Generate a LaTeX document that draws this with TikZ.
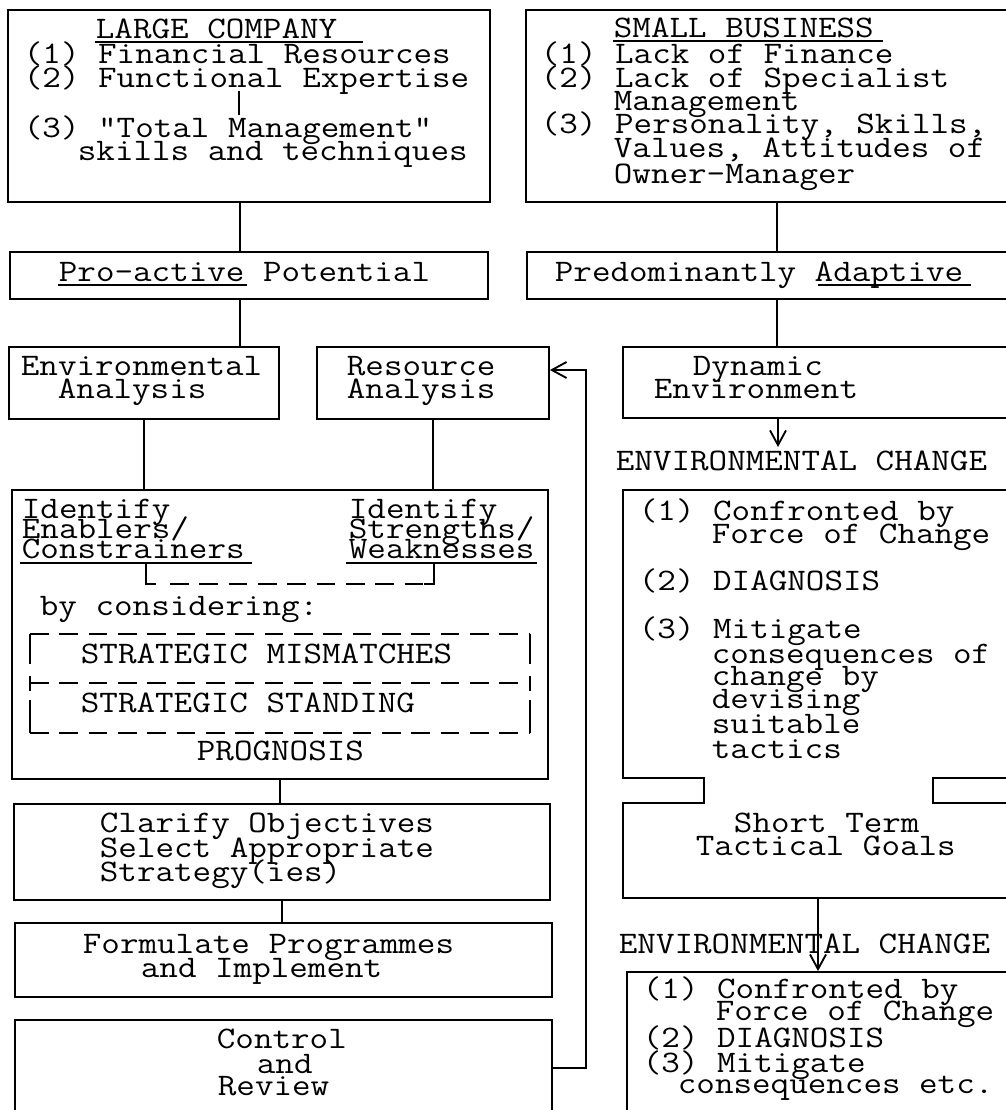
\documentclass[tikz,border=0pt]{standalone}
\usepackage{graphicx}
\usetikzlibrary{fit,calc,arrows.meta}
% typewriter face used for every label, widened slightly
\newcommand\diagfont{\fontsize{23.5}{18}\selectfont\ttfamily}
\newcommand\lbl[3]{\node[txt] (#1) at (#2) {\scalebox{1.15}[1]{#3}};}
\begin{document}
\begin{tikzpicture}[x=0.75pt,y=-0.75pt,line width=1.4pt,
  box/.style={draw,inner sep=0pt,line width=1.4pt},
  area/.style={inner sep=0pt},
  txt/.style={inner sep=0pt,anchor=base west,font=\diagfont},
  ul/.style={line width=1.1pt},
  dsh/.style={line width=1.3pt,dash pattern=on 14pt off 8pt},
  arr/.style={-{Straight Barb[length=11pt,width=12pt]}}]
\useasboundingbox (0,0) rectangle (1006,1110);
\fill[white] (0,0) rectangle (1006,1110);
\clip (0,0) rectangle (1006,1110);

% ---------- large company column ----------
\node[box,fit={(8,10) (490,202)}] (lco) {};
\lbl{lc0}{95,38}{LARGE COMPANY}
\lbl{lc1}{23,63}{(1) Financial Resources}
\lbl{lc2}{23,87}{(2) Functional Expertise}
\lbl{lc3}{23,137}{(3) "Total Management"}
\lbl{lc4}{77,160}{skills and techniques}
\draw[ul] ($(lc0.base west)+(0,4)$) -- ++(268,0);
\coordinate (tickA) at (239,91);
\coordinate (tickB) at (239,115);
\draw (tickA) -- (tickB);

\node[box,fit={(10,252) (488,299)}] (pro) {};
\lbl{prot}{58,281}{Pro-active Potential}
\draw[ul] ($(prot.base west)+(0,4)$) -- ++(189,0);

\node[box,fit={(9,347) (279,419)}] (env) {};
\lbl{env1}{20,375}{Environmental}
\lbl{env2}{57,398}{Analysis}

\node[box,fit={(317,347) (549,419)}] (res) {};
\lbl{res1}{346,375}{Resource}
\lbl{res2}{346,398}{Analysis}

% analysis block
\node[box,fit={(12,490) (548,779)}] (big) {};
\lbl{ec1}{21,518}{Identify}
\lbl{ec2}{21,538}{Enablers/}
\lbl{ec3}{21,558}{Constrainers}
\lbl{sw1}{348,518}{Identify}
\lbl{sw2}{348,538}{Strengths/}
\lbl{sw3}{348,558}{Weaknesses}
\draw[ul] ($(ec3.base west)+(-1,5)$) -- ++(232,0);
\draw[ul] ($(sw3.base west)+(-2,5)$) -- ++(191,0);
\coordinate (brL) at (146,563);
\coordinate (brR) at (434,563);
\draw (brL) -- ++(0,21) -- ++(10,0);
\draw (brR) -- ++(0,21) -- ++(-10,0);
\draw[dsh] ($(brL)+(24,21)$) -- ($(brR)+(-10,21)$);

\lbl{bycon}{39,615}{by considering:}
\coordinate (dbTL) at (30,634);
\coordinate (dbBR) at (530,733);
\draw[dsh] (dbTL) -- (dbTL -| dbBR);
\draw[dsh] (30,683) -- (530,683);
\draw[dsh] (dbTL |- dbBR) -- (dbBR);
\draw (30,634) -- (30,664);
\draw (30,676) -- (30,691);
\draw (30,700) -- (30,733);
\draw (530,634) -- (530,664);
\draw (530,676) -- (530,691);
\draw (530,700) -- (530,733);
\lbl{smm}{80,663}{STRATEGIC MISMATCHES}
\lbl{sst}{80,712}{STRATEGIC STANDING}
\lbl{prog}{196,760}{PROGNOSIS}

\node[box,fit={(14,804) (550,900)}] (cla) {};
\lbl{cla1}{99,832}{Clarify Objectives}
\lbl{cla2}{99,857}{Select Appropriate}
\lbl{cla3}{99,881}{Strategy(ies)}

\node[box,fit={(15,923) (552,997)}] (frm) {};
\lbl{frm1}{82,953}{Formulate Programmes}
\lbl{frm2}{140,977}{and Implement}

\node[box,fit={(15,1020) (552,1125)}] (ctl) {};
\lbl{ctl1}{216,1048}{Control}
\lbl{ctl2}{256,1073}{and}
\lbl{ctl3}{217,1095}{Review}

% ---------- small business column ----------
\node[box,fit={(526,10) (1020,202)}] (sb) {};
\lbl{sb0}{613,37}{SMALL BUSINESS}
\lbl{sb1}{540,63}{(1) Lack of Finance}
\lbl{sb2}{540,87}{(2) Lack of Specialist}
\lbl{sb3}{613,110}{Management}
\lbl{sb4}{540,133}{(3) Personality, Skills,}
\lbl{sb5}{613,157}{Values, Attitudes of}
\lbl{sb6}{613,183}{Owner-Manager}
\draw[ul] ($(sb0.base west)+(0,4)$) -- ++(270,0);

\node[box,fit={(527,252) (1020,299)}] (pd) {};
\lbl{pdt}{554,281}{Predominantly Adaptive}
\draw[ul] ($(pdt.base west)+(264,4)$) -- ++(153,0);

\node[box,fit={(623,347) (1020,418)}] (dyn) {};
\lbl{dyn1}{692,375}{Dynamic}
\lbl{dyn2}{653,398}{Environment}

\lbl{chg1}{615,470}{ENVIRONMENTAL CHANGE}
\coordinate (tip1) at (778,447);

% change block with its tactical-goals section
\node[area,fit={(623,490) (1020,778)}] (frc) {};
\node[area,fit={(623,803) (1020,898)}] (stg) {};
\draw[line width=1.4pt] (1020,490) -- (623,490) -- (623,778) -- (704,778) -- (704,803)
  -- (623,803) -- (623,898) -- (1020,898);
\draw[line width=1.4pt] (1020,778) -- (933,778) -- (933,803) -- (1020,803);
\lbl{f1}{638,520}{(1) Confronted by}
\lbl{f2}{711,543}{Force of Change}
\lbl{f3}{638,590}{(2) DIAGNOSIS}
\lbl{f4}{638,638}{(3) Mitigate}
\lbl{f5}{711,663}{consequences of}
\lbl{f6}{711,685}{change by}
\lbl{f7}{711,708}{devising}
\lbl{f8}{711,733}{suitable}
\lbl{f9}{711,758}{tactics}
\lbl{stg1}{733,832}{Short Term}
\lbl{stg2}{695,855}{Tactical Goals}

\lbl{chg2}{618,953}{ENVIRONMENTAL CHANGE}

\node[box,fit={(627,972) (1020,1125)}] (bx2) {};
\lbl{g1}{642,998}{(1) Confronted by}
\lbl{g2}{715,1020}{Force of Change}
\lbl{g3}{642,1047}{(2) DIAGNOSIS}
\lbl{g4}{642,1072}{(3) Mitigate}
\lbl{g5}{677,1093}{consequences etc.}

% ---------- connectors ----------
\coordinate (cL) at (240,0);
\coordinate (cR) at (777,0);
\coordinate (cS) at (818,0);
\draw (cL |- lco.south) -- (cL |- pro.north);
\draw (cL |- pro.south) -- (cL |- env.north);
\draw (env.south) -- (env.south |- big.north);
\draw (res.south) -- (res.south |- big.north);
\draw (big.south) -- (big.south |- cla.north);
\draw (cla.south) -- (cla.south |- frm.north);

\draw (cR |- sb.south) -- (cR |- pd.north);
\draw (cR |- pd.south) -- (cR |- dyn.north);
\draw[arr] (tip1 |- dyn.south) -- (tip1);
\draw[arr] (cS |- stg.south) -- (cS |- bx2.north);

% feedback loop from control back to resource analysis
\coordinate (fbA) at (586,1068);
\coordinate (fbB) at (586,370);
\draw[arr] (ctl.east |- fbA) -- (fbA) -- (fbB) -- (res.east |- fbB);
\end{tikzpicture}
\end{document}
